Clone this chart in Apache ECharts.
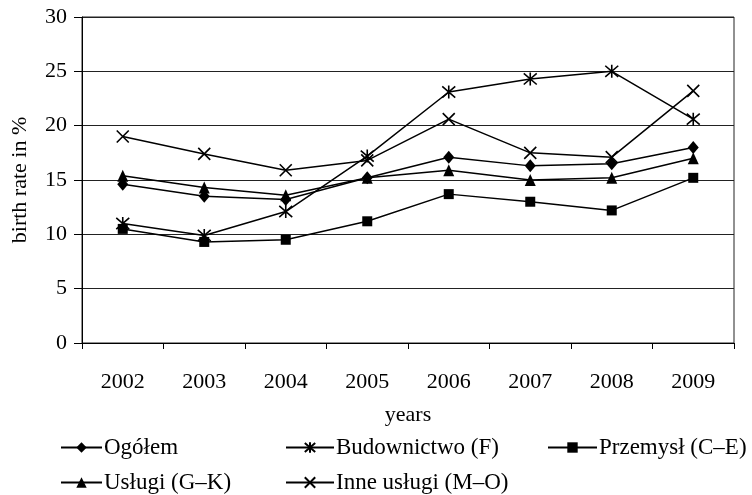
<!DOCTYPE html>
<html>
<head>
<meta charset="utf-8">
<script src="https://cdn.jsdelivr.net/npm/echarts@6/dist/echarts.min.js"></script>
<style>
  html, body { margin: 0; padding: 0; background: #fff; }
  #chart { width: 752px; height: 495px; }
</style>
</head>
<body>
<div id="chart"></div>
<script>
// Birth rate by sector, 2002–2009
const years = ['2002', '2003', '2004', '2005', '2006', '2007', '2008', '2009'];
const ogolem      = [14.6, 13.5, 13.2, 15.2, 17.1, 16.3, 16.5, 18.0];
const budownictwo = [11.0,  9.9, 12.1, 17.2, 23.1, 24.3, 25.0, 20.6];
const przemysl    = [10.5,  9.3,  9.5, 11.2, 13.7, 13.0, 12.2, 15.2];
const uslugi      = [15.4, 14.3, 13.6, 15.2, 15.9, 15.0, 15.2, 17.0];
const inneUslugi  = [19.0, 17.4, 15.9, 16.8, 20.6, 17.5, 17.1, 23.2];

const seriesNames = ['Ogółem', 'Budownictwo (F)', 'Przemysł (C–E)', 'Usługi (G–K)', 'Inne usługi (M–O)'];
const yMin = 0, yMax = 30, yStep = 5;

const FONT = "'Liberation Serif', 'DejaVu Serif', serif";
const INK = '#000';

// stroked marker shapes
const ASTERISK = 'path://M0,0L12,12M12,0L0,12M6,-1L6,13';
const CROSS = 'path://M0,0L12,12M12,0L0,12';

function lineSeries(name, data, symbol, size, stroked) {
  return {
    name: name,
    type: 'line',
    data: data,
    symbol: symbol,
    symbolSize: size,
    showAllSymbol: true,
    lineStyle: { color: INK, width: 1.5 },
    itemStyle: stroked
      ? { color: 'rgba(0,0,0,0)', borderColor: INK, borderWidth: 1.6 }
      : { color: INK, borderWidth: 0 },
    emphasis: { disabled: true }
  };
}

function legendAt(name, left, top, width) {
  return {
    data: [name],
    left: left,
    top: top,
    padding: 0,
    itemWidth: width,
    itemHeight: 13,
    itemGap: 0,
    selectedMode: false,
    textStyle: { fontFamily: FONT, fontSize: 23, color: INK, padding: [0, 0, 0, -3] }
  };
}

const chart = echarts.init(document.getElementById('chart'), null, { renderer: 'canvas' });
chart.setOption({
  animation: false,
  backgroundColor: '#fff',
  grid: {
    left: 82, right: 18, top: 17, bottom: 152,
    show: true, borderColor: '#222', borderWidth: 1, backgroundColor: 'transparent'
  },
  legend: [
    legendAt(seriesNames[0], 60, 436, 41),
    legendAt(seriesNames[1], 285, 436, 48),
    legendAt(seriesNames[2], 547, 436, 49),
    legendAt(seriesNames[3], 60, 471, 41),
    legendAt(seriesNames[4], 285, 471, 48)
  ],
  xAxis: {
    type: 'category',
    data: years,
    boundaryGap: true,
    name: 'years',
    nameLocation: 'middle',
    nameGap: 61,
    nameTextStyle: { fontFamily: FONT, fontSize: 22, color: INK },
    axisLine: { lineStyle: { color: INK, width: 1 } },
    axisTick: { show: true, alignWithLabel: false, length: 6, lineStyle: { color: INK } },
    axisLabel: { fontFamily: FONT, fontSize: 22, color: INK, margin: 28 },
    splitLine: { show: false }
  },
  yAxis: {
    type: 'value',
    min: yMin, max: yMax, interval: yStep,
    name: 'birth rate in %',
    nameLocation: 'middle',
    nameRotate: 90,
    nameGap: 51,
    nameTextStyle: { fontFamily: FONT, fontSize: 22, color: INK },
    axisLine: { show: true, lineStyle: { color: INK, width: 1 } },
    axisTick: { show: true, length: 8, lineStyle: { color: INK } },
    axisLabel: { fontFamily: FONT, fontSize: 22, color: INK, margin: 15 },
    splitLine: { show: true, lineStyle: { color: '#222', width: 1 } }
  },
  series: [
    lineSeries(seriesNames[0], ogolem, 'diamond', [11, 13], false),
    lineSeries(seriesNames[1], budownictwo, ASTERISK, 13, true),
    lineSeries(seriesNames[2], przemysl, 'rect', 10, false),
    lineSeries(seriesNames[3], uslugi, 'triangle', [11, 12], false),
    lineSeries(seriesNames[4], inneUslugi, CROSS, 12, true)
  ]
});
</script>
</body>
</html>
